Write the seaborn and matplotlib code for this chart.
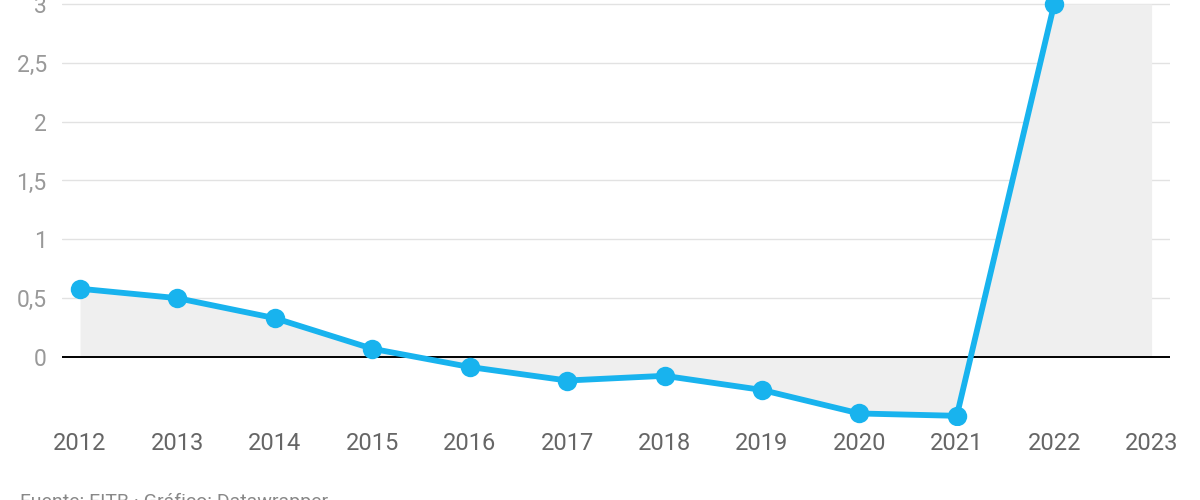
import matplotlib
matplotlib.use('Agg')
import matplotlib.pyplot as plt
from matplotlib.ticker import FuncFormatter
import seaborn as sns
import pandas as pd

# Data
years = [2012, 2013, 2014, 2015, 2016, 2017, 2018, 2019, 2020, 2021, 2022]
values = [0.58, 0.50, 0.33, 0.07, -0.085, -0.20, -0.16, -0.28, -0.48, -0.50, 3.0]
area_years = [2012, 2013, 2014, 2015, 2016, 2017, 2018, 2019, 2020, 2021, 2022, 2023]
area_values = [0.58, 0.50, 0.33, 0.07, -0.085, -0.20, -0.16, -0.28, -0.48, -0.50, 3.0, 3.0]
y_ticks = [0, 0.5, 1, 1.5, 2, 2.5, 3]
source_text = "Fuente: EITB · Gráfico: Datawrapper"

sns.set_theme(style="white")
plt.rcParams['font.family'] = ['Roboto', 'DejaVu Sans']

line_color = "#18b3ee"

fig = plt.figure(figsize=(12, 5), dpi=100)
ax = fig.add_axes([0.0517, 0.15, 0.923, 0.85])

df = pd.DataFrame({'year': years, 'value': values})

# grey area between series and zero
ax.fill_between(area_years, area_values, 0, color="#efefef", linewidth=0, zorder=1)

# gridlines
for t in y_ticks:
    if t == 0:
        ax.axhline(0, color="black", linewidth=1.4, zorder=2)
    else:
        ax.axhline(t, color="#e2e2e2", linewidth=1.0, zorder=0.5)

sns.lineplot(data=df, x='year', y='value', ax=ax, color=line_color,
             linewidth=4.2, marker='o', markersize=14, markeredgewidth=0,
             zorder=3)

ax.set_xlim(2011.815, 2023.185)
ax.set_ylim(-0.578, 3.034)
ax.set_xticks(area_years)
ax.set_xticklabels([str(y) for y in area_years])
ax.set_yticks(y_ticks)
ax.yaxis.set_major_formatter(FuncFormatter(lambda v, p: f"{v:g}".replace('.', ',')))
ax.set_xlabel("")
ax.set_ylabel("")
ax.grid(False)
for s in ax.spines.values():
    s.set_visible(False)

ax.tick_params(axis='x', length=0, labelsize=17, labelcolor="#666666", pad=5)
ax.tick_params(axis='y', length=0, labelsize=16.5, labelcolor="#999999", pad=11)

fig.text(0.017, 0.015, source_text, fontsize=14, color="#888888",
         ha='left', va='top')

fig.savefig("out.png", dpi=100)
